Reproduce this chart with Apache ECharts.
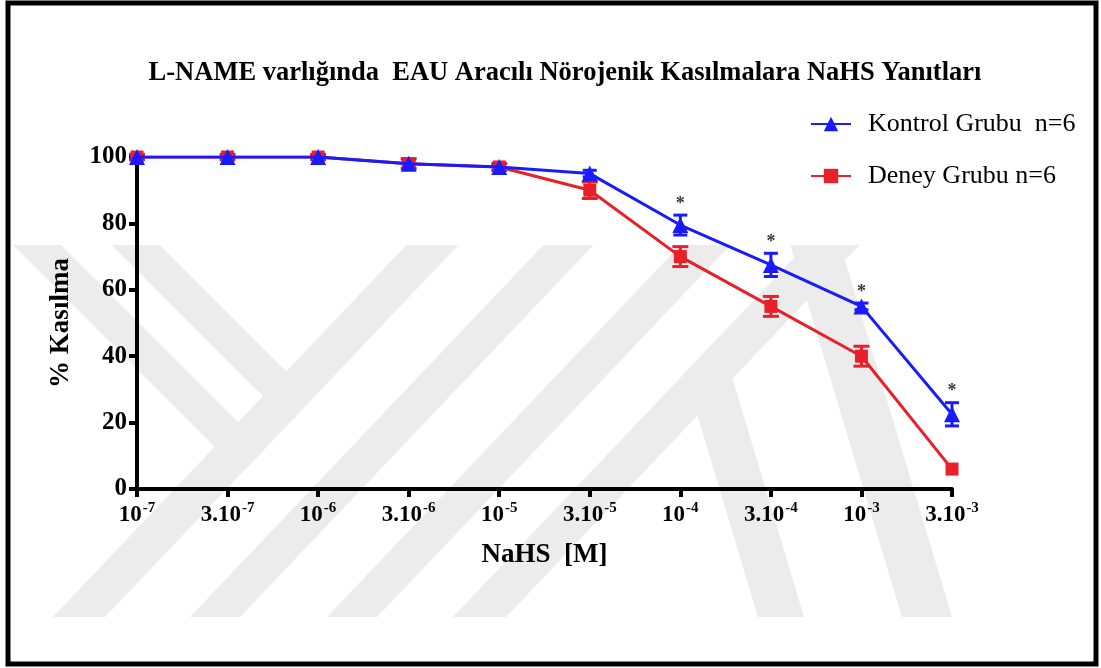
<!DOCTYPE html>
<html>
<head>
<meta charset="utf-8">
<script src="https://cdn.jsdelivr.net/npm/echarts@6/dist/echarts.min.js"></script>
<style>
  html, body { margin: 0; padding: 0; background: #fff; }
  #chart { width: 1101px; height: 668px; }
</style>
</head>
<body>
<div id="chart"></div>
<script>
// NaHS concentrations: [mantissa prefix, exponent]
const concentrations = [
  ['', '-7'], ['3.', '-7'], ['', '-6'], ['3.', '-6'], ['', '-5'],
  ['3.', '-5'], ['', '-4'], ['3.', '-4'], ['', '-3'], ['3.', '-3']
];
const categories = concentrations.map(c => c[0] + '10^' + c[1]);

// Mean contraction (%) and SEM per group
const kontrolMean = [100, 100, 100, 98, 97, 95, 79.5, 67.5, 55, 22.5];
const kontrolSem  = [0.5, 0.5, 0.5, 1, 1, 1, 3, 3.5, 1, 3.5];
const deneyMean   = [100, 100, 100, 98, 97, 90, 70, 55, 40, 6];
const deneySem    = [0.8, 0.8, 0.8, 1.5, 1, 2.5, 3, 3, 3, 0];

// Concentrations where the groups differ significantly
const significant = [false, false, false, false, false, false, true, true, true, true];

const yTicks = { min: 0, max: 100, interval: 20 };

const serif = '"Liberation Serif", "DejaVu Serif", serif';
const BLUE = '#1a1aff';
const RED = '#e8202a';

// ---- background emblem: light diagonal bands ----
const WM_TOP = 245, WM_BOT = 617;
// a band: x of its left edge at the bottom line, its width, and dx per px of rise
function edgeX(x0, k, y) { return x0 + k * (WM_BOT - y); }
function bandPoly(b, yTop, yBot) {
  return [
    [edgeX(b.x0, b.k, yTop), yTop], [edgeX(b.x0 + b.w, b.k, yTop), yTop],
    [edgeX(b.x0 + b.w, b.k, yBot), yBot], [edgeX(b.x0, b.k, yBot), yBot]
  ];
}
// band b cut off where it meets the right edge of band c
function bandUntil(b, c, fromTop) {
  const cx0 = c.x0 + c.w;
  const meet = e0 => WM_BOT - (cx0 - e0) / (b.k - c.k);
  const yL = meet(b.x0), yR = meet(b.x0 + b.w);
  if (fromTop) {
    return [
      [edgeX(b.x0, b.k, WM_TOP), WM_TOP], [edgeX(b.x0 + b.w, b.k, WM_TOP), WM_TOP],
      [edgeX(b.x0 + b.w, b.k, yR), yR], [edgeX(b.x0, b.k, yL), yL]
    ];
  }
  return [
    [edgeX(b.x0, b.k, yL), yL], [edgeX(b.x0 + b.w, b.k, yR), yR],
    [edgeX(b.x0 + b.w, b.k, WM_BOT), WM_BOT], [edgeX(b.x0, b.k, WM_BOT), WM_BOT]
  ];
}
const P1 = { x0: 53, w: 52, k: 0.95 }, P2 = { x0: 190, w: 50, k: 0.95 };
const P3 = { x0: 327, w: 50, k: 0.95 }, P4 = { x0: 453, w: 53, k: 0.95 };
const Q3 = { x0: 385, w: 48, k: -1.0 }, Q4 = { x0: 484, w: 48, k: -1.0 };
const Q1 = { x0: 902, w: 50, k: -0.3 }, Q2 = { x0: 758, w: 46, k: -0.3 };
const emblem = [
  bandPoly(P1, WM_TOP, WM_BOT), bandPoly(P2, WM_TOP, WM_BOT),
  bandPoly(P3, WM_TOP, WM_BOT), bandPoly(P4, WM_TOP, WM_BOT),
  bandPoly(Q1, WM_TOP, WM_BOT),
  bandUntil(Q3, P1, true), bandUntil(Q4, P1, true),
  bandUntil(Q2, { x0: P4.x0 - P4.w, w: P4.w, k: P4.k }, false)
].map(points => ({
  type: 'polygon', shape: { points }, style: { fill: '#ececec' }, silent: true, z: -10
}));

function errorBars(mean, sem, color, capHalf) {
  return {
    type: 'custom',
    silent: true,
    z: 3,
    data: mean.map((m, i) => [i, m - sem[i], m + sem[i]]),
    renderItem(params, api) {
      if (api.value(2) - api.value(1) <= 0) return null;
      const x = api.coord([api.value(0), 0])[0];
      const lo = api.coord([api.value(0), api.value(1)])[1];
      const hi = api.coord([api.value(0), api.value(2)])[1];
      const style = { stroke: color, lineWidth: 3 };
      return {
        type: 'group',
        children: [
          { type: 'line', shape: { x1: x, y1: lo, x2: x, y2: hi }, style },
          { type: 'line', shape: { x1: x - capHalf, y1: lo, x2: x + capHalf, y2: lo }, style },
          { type: 'line', shape: { x1: x - capHalf, y1: hi, x2: x + capHalf, y2: hi }, style }
        ]
      };
    }
  };
}

const chart = echarts.init(document.getElementById('chart'), null, { renderer: 'canvas' });

chart.setOption({
  animation: false,
  backgroundColor: '#fff',
  title: {
    text: 'L-NAME varlığında  EAU Aracılı Nörojenik Kasılmalara NaHS Yanıtları',
    left: 560,
    textAlign: 'center',
    top: 55,
    textStyle: { fontFamily: serif, fontWeight: 'bold', fontSize: 26.5, color: '#000' }
  },
  legend: {
    orient: 'vertical',
    left: 810,
    top: 111,
    padding: 0,
    itemWidth: 40,
    itemHeight: 18,
    itemGap: 26,
    textStyle: { fontFamily: serif, fontSize: 26, color: '#000', padding: [0, 0, 0, 12] },
    data: ['Kontrol Grubu  n=6', 'Deney Grubu n=6']
  },
  grid: { left: 137, right: 149, top: 157, bottom: 179, containLabel: false },
  xAxis: {
    type: 'category',
    data: categories,
    boundaryGap: false,
    name: 'NaHS  [M]',
    nameLocation: 'middle',
    nameGap: 53,
    nameTextStyle: { fontFamily: serif, fontWeight: 'bold', fontSize: 27, color: '#000' },
    axisLine: { lineStyle: { color: '#000', width: 4 } },
    axisTick: { alignWithLabel: true, length: 8, lineStyle: { color: '#000', width: 4 } },
    axisLabel: {
      margin: 12,
      interval: 0,
      formatter(v, i) {
        const c = concentrations[i];
        return '{b|' + c[0] + '10}{s|' + c[1] + '}';
      },
      rich: {
        b: { fontFamily: serif, fontWeight: 'bold', fontSize: 23, color: '#000', lineHeight: 26, verticalAlign: 'bottom' },
        s: { fontFamily: serif, fontWeight: 'bold', fontSize: 15, color: '#000', lineHeight: 26, verticalAlign: 'top', padding: [0, 0, 8, 1] }
      }
    },
    splitLine: { show: false }
  },
  yAxis: {
    type: 'value',
    min: yTicks.min,
    max: yTicks.max,
    interval: yTicks.interval,
    name: '% Kasılma',
    nameLocation: 'middle',
    nameGap: 62,
    nameRotate: 90,
    nameTextStyle: { fontFamily: serif, fontWeight: 'bold', fontSize: 27, color: '#000' },
    axisLine: { show: true, lineStyle: { color: '#000', width: 4 } },
    axisTick: { show: true, length: 8, lineStyle: { color: '#000', width: 4 } },
    axisLabel: { margin: 10, fontFamily: serif, fontWeight: 'bold', fontSize: 25, color: '#000' },
    splitLine: { show: false }
  },
  graphic: emblem.concat([
    {
      type: 'rect',
      shape: { x: 8, y: 3, width: 1088, height: 661 },
      style: { fill: 'none', stroke: '#000', lineWidth: 5 },
      silent: true,
      z: 100
    }
  ]),
  series: [
    errorBars(deneyMean, deneySem, RED, 8),
    {
      name: 'Deney Grubu n=6',
      type: 'line',
      data: deneyMean,
      color: RED,
      symbol: 'rect',
      symbolSize: 13,
      z: 4,
      lineStyle: { width: 3, color: RED },
      itemStyle: { color: RED }
    },
    errorBars(kontrolMean, kontrolSem, BLUE, 7),
    {
      name: 'Kontrol Grubu  n=6',
      type: 'line',
      data: kontrolMean,
      color: BLUE,
      symbol: 'triangle',
      symbolSize: 16,
      z: 6,
      lineStyle: { width: 3, color: BLUE },
      itemStyle: { color: BLUE }
    },
    {
      type: 'scatter',
      silent: true,
      z: 7,
      symbolSize: 0,
      data: kontrolMean.map((m, i) => significant[i] ? [i, m + kontrolSem[i]] : null).filter(Boolean),
      label: {
        show: true,
        position: 'top',
        distance: 2,
        formatter: '*',
        fontFamily: serif,
        fontWeight: 'bold',
        fontSize: 18,
        color: '#000'
      }
    }
  ]
});
</script>
</body>
</html>
